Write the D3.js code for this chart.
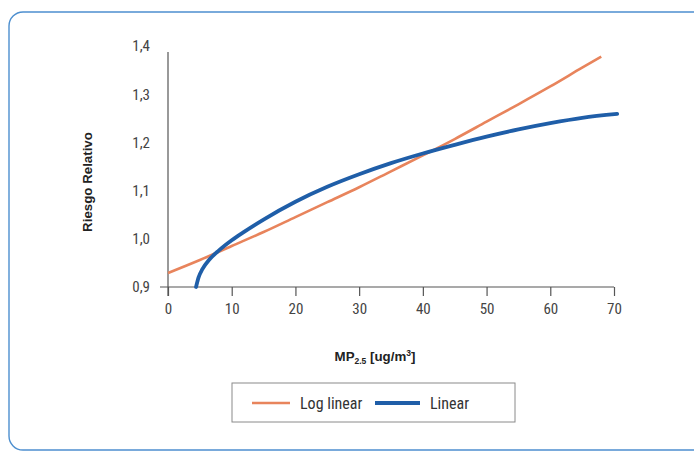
<!DOCTYPE html>
<html>
<head>
<meta charset="utf-8">
<script src="https://cdn.jsdelivr.net/npm/d3@7"></script>
<style>
  html, body { margin: 0; padding: 0; background: #fff; }
  svg { display: block; }
</style>
</head>
<body>
<svg id="chart" width="694" height="454"></svg>
<script>
// ---- data ----
const xTicks = [0, 10, 20, 30, 40, 50, 60, 70];
const yTicks = [0.9, 1.0, 1.1, 1.2, 1.3, 1.4];
const logLinearX = [0, 5, 10, 15, 20, 25, 30, 35, 40, 45, 50, 55, 60, 65, 68];
const logLinearY = [0.929, 0.956, 0.985, 1.014, 1.045, 1.076, 1.107, 1.140, 1.173, 1.207, 1.243, 1.279, 1.316, 1.355, 1.378];
const linearX = [4.4, 4.8, 5.4, 6.5, 8, 10, 12, 15, 20, 25, 30, 35, 40, 45, 50, 55, 60, 65, 70.5];
const linearY = [0.900, 0.920, 0.937, 0.957, 0.976, 0.997, 1.015, 1.040, 1.077, 1.108, 1.134, 1.157, 1.177, 1.195, 1.212, 1.227, 1.240, 1.251, 1.259];
const seriesNames = ["Log linear", "Linear"];
const seriesColors = ["#e8845c", "#1f5ea8"];
const xTitle = "MP";
const xTitleSub = "2.5";
const xTitleRest = " [ug/m";
const xTitleSup = "3";
const yTitle = "Riesgo Relativo";

// ---- drawing ----
const svg = d3.select("#chart");
const locale = d3.formatLocale({decimal: ",", thousands: ".", grouping: [3], currency: ["", "€"]});
const fmtY = locale.format(".1f");

// outer rounded frame
svg.append("rect")
  .attr("x", 9).attr("y", 12).attr("width", 740).attr("height", 438)
  .attr("rx", 14).attr("ry", 14)
  .attr("fill", "none").attr("stroke", "#4d8fcf").attr("stroke-width", 1.4);

const x = d3.scaleLinear().domain([0, 70]).range([168, 614]);
const y = d3.scaleLinear().domain([0.9, 1.4]).range([287, 46]);

const axisColor = "#555";
const tickFont = "'Liberation Sans Narrow', 'Arial Narrow', 'Roboto Condensed', sans-serif";

// x axis
const xAxis = svg.append("g").attr("transform", `translate(0,${y(0.9)})`)
  .call(d3.axisBottom(x).tickValues(xTicks).tickSize(9).tickPadding(7).tickSizeOuter(0));
xAxis.select(".domain").remove();
xAxis.append("line").attr("x1", 160).attr("x2", x(70)).attr("y1", 0).attr("y2", 0)
  .attr("stroke", axisColor).attr("stroke-width", 1.2);
xAxis.selectAll(".tick line").attr("stroke", axisColor).attr("stroke-width", 1.2);
xAxis.selectAll(".tick text").attr("fill", "#444").attr("font-size", 15)
  .attr("font-family", tickFont);

// y axis
const yAxis = svg.append("g").attr("transform", `translate(${x(0)},0)`)
  .call(d3.axisLeft(y).tickValues(yTicks).tickSize(0).tickPadding(18).tickFormat(fmtY));
yAxis.select(".domain").remove();
yAxis.append("line").attr("x1", 0).attr("x2", 0).attr("y1", 52).attr("y2", y(0.9) + 9)
  .attr("stroke", axisColor).attr("stroke-width", 1.2);
yAxis.selectAll(".tick text").attr("fill", "#444").attr("font-size", 15)
  .attr("font-family", tickFont);

// titles
svg.append("text")
  .attr("transform", `translate(92,182) rotate(-90)`)
  .attr("text-anchor", "middle")
  .attr("font-family", "'Liberation Sans', Arial, sans-serif")
  .attr("font-weight", "bold").attr("font-size", 13.3).attr("fill", "#222")
  .text(yTitle);

const xt = svg.append("text")
  .attr("x", 375).attr("y", 361)
  .attr("text-anchor", "middle")
  .attr("font-family", "'Liberation Sans', Arial, sans-serif")
  .attr("font-weight", "bold").attr("font-size", 13.3).attr("fill", "#222");
xt.append("tspan").text(xTitle);
xt.append("tspan").attr("font-size", 8.5).attr("dy", 3).text(xTitleSub);
xt.append("tspan").attr("dy", -3).text(xTitleRest);
xt.append("tspan").attr("font-size", 8.5).attr("dy", -5).text(xTitleSup);
xt.append("tspan").attr("dy", 5).text("]");

// lines
const line = d3.line().x(d => x(d[0])).y(d => y(d[1])).curve(d3.curveMonotoneX);
const logData = logLinearX.map((v, i) => [v, logLinearY[i]]);
const linData = linearX.map((v, i) => [v, linearY[i]]);

svg.append("path").datum(logData).attr("d", line)
  .attr("fill", "none").attr("stroke", seriesColors[0]).attr("stroke-width", 2.6);
svg.append("path").datum(linData).attr("d", line)
  .attr("fill", "none").attr("stroke", seriesColors[1]).attr("stroke-width", 3.8)
  .attr("stroke-linecap", "round");

// legend
const lg = svg.append("g");
lg.append("rect").attr("x", 232).attr("y", 383).attr("width", 283).attr("height", 39)
  .attr("fill", "#fff").attr("stroke", "#8a8a8a").attr("stroke-width", 1);
const legendItems = [
  {x1: 252, x2: 290, tx: 300, w: 2.6},
  {x1: 375, x2: 420, tx: 430, w: 3.8}
];
legendItems.forEach((it, i) => {
  lg.append("line").attr("x1", it.x1).attr("x2", it.x2).attr("y1", 403).attr("y2", 403)
    .attr("stroke", seriesColors[i]).attr("stroke-width", it.w);
  lg.append("text").attr("x", it.tx).attr("y", 409)
    .attr("font-family", tickFont).attr("font-size", 16).attr("fill", "#333")
    .text(seriesNames[i]);
});
</script>
</body>
</html>
